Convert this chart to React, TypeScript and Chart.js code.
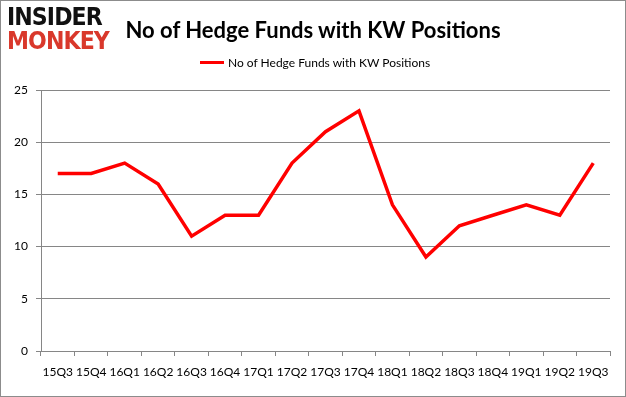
import React, { useEffect, useRef } from "react";
import { Chart, registerables } from "chart.js";

Chart.register(...registerables);

const categories = ["15Q3","15Q4","16Q1","16Q2","16Q3","16Q4","17Q1","17Q2","17Q3","17Q4","18Q1","18Q2","18Q3","18Q4","19Q1","19Q2","19Q3"];
const hedgeFunds = [17,17,18,16,11,13,13,18,21,23,14,9,12,13,14,13,18];
const seriesName = "No of Hedge Funds with KW Positions";
const yTicks = [0, 5, 10, 15, 20, 25];

const FONT = "Lato, 'Open Sans', sans-serif";

export default function App() {
  const ref = useRef<HTMLCanvasElement>(null);
  useEffect(() => {
    if (!ref.current) return;
    const chart = new Chart(ref.current, {
      type: "line",
      data: {
        labels: categories,
        datasets: [{
          label: seriesName,
          data: hedgeFunds,
          borderColor: "#ff0000",
          backgroundColor: "#ff0000",
          borderWidth: 3.5,
          pointRadius: 0,
          tension: 0,
        }],
      },
      options: {
        animation: false,
        responsive: false,
        maintainAspectRatio: false,
        layout: { padding: { top: 90, right: 16, left: 0, bottom: 0 } },
        plugins: { legend: { display: false }, title: { display: false }, tooltip: { enabled: false } },
        scales: {
          x: {
            offset: true,
            grid: { offset: true, drawOnChartArea: false, color: "#868686", tickLength: 5 },
            border: { color: "#868686" },
            ticks: { color: "#000", font: { family: FONT, size: 12 }, padding: 9, maxRotation: 0, autoSkip: false },
            afterFit: (s: any) => { s.height = 46; },
          },
          y: {
            min: 0, max: 25,
            afterBuildTicks: (s: any) => { s.ticks = yTicks.map((v) => ({ value: v })); },
            grid: { color: "#868686", tickLength: 5 },
            border: { color: "#868686" },
            ticks: { color: "#000", font: { family: FONT, size: 12 }, padding: 8 },
            afterFit: (s: any) => { s.width = 41; },
          },
        },
      },
    });
    return () => chart.destroy();
  }, []);

  return (
    <div style={{ position: "absolute", left: 0, top: 0, width: 626, height: 397, background: "#fff", fontFamily: FONT }}>
      <canvas ref={ref} width={626} height={397} style={{ position: "absolute", left: 0, top: 0 }} />
      <div style={{ position: "absolute", left: 0, top: 0, width: 624, height: 395, border: "1px solid #8c8c8c", pointerEvents: "none" }} />
      <div style={{ position: "absolute", left: 7, top: 5, lineHeight: "24px", fontFamily: "'DejaVu Sans', sans-serif", fontWeight: 900 }}>
        <div style={{ fontSize: 24, color: "#111", letterSpacing: -1, transform: "scaleX(0.92)", transformOrigin: "left" }}>INSIDER</div>
        <div style={{ fontSize: 24, color: "#d9382b", letterSpacing: -1, transform: "scaleX(0.92)", transformOrigin: "left" }}>MONKEY</div>
      </div>
      <div style={{ position: "absolute", left: 113, top: 16, width: 400, textAlign: "center", fontSize: 22, fontWeight: 700, color: "#000", whiteSpace: "nowrap" }}>
        {seriesName}
      </div>
      <div style={{ position: "absolute", left: 200, top: 55, display: "flex", alignItems: "center", fontSize: 12, color: "#000", whiteSpace: "nowrap" }}>
        <span style={{ display: "inline-block", width: 24, height: 3, background: "#ff0000", marginRight: 4 }} />
        {seriesName}
      </div>
    </div>
  );
}
